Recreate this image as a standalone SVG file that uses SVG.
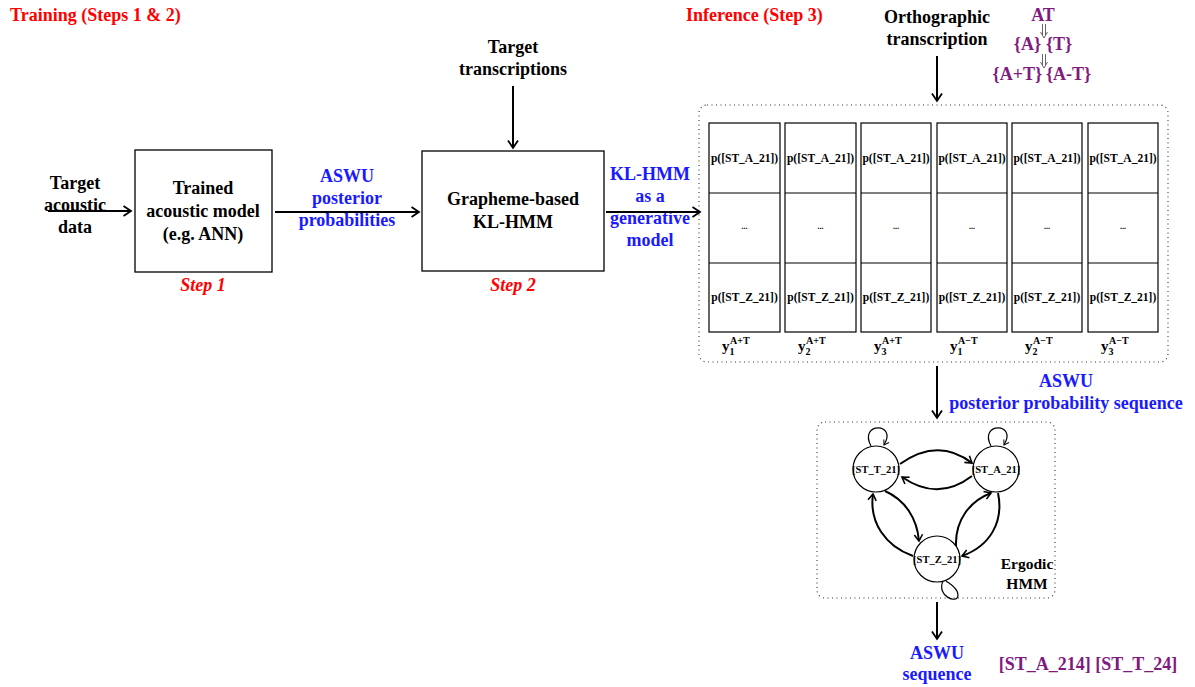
<svg xmlns="http://www.w3.org/2000/svg" width="1195" height="687" viewBox="0 0 1195 687">
<style>
text{font-family:"Liberation Serif","Times New Roman",serif;font-weight:bold;}
.t18{font-size:18px;fill:#000;}
.red{font-size:18px;fill:#ff0000;}
.step{font-size:18px;fill:#ff0000;font-style:italic;}
.blue{font-size:18px;fill:#1a1aff;}
.pur{font-size:18px;fill:#7f1a7f;}
.cell{font-size:11.5px;fill:#000;}
.dots{font-size:8px;fill:#000;}
.node{font-size:10.5px;fill:#000;}
.box{fill:#fff;stroke:#000;stroke-width:1.3;}
.col{fill:#fff;stroke:#000;stroke-width:1.2;}
.dotted{fill:none;stroke:#333;stroke-width:1.1;stroke-dasharray:1 3.5;}
.arr{fill:none;stroke:#000;stroke-width:2;marker-end:url(#ah);}
.arr2{fill:none;stroke:#000;stroke-width:2;marker-end:url(#ah2);}
.loop{fill:none;stroke:#000;stroke-width:1.2;}
.circ{fill:#fff;stroke:#000;stroke-width:1.2;}
</style>
<defs>
<marker id="ah" viewBox="0 0 12 12" refX="10.5" refY="6" markerWidth="12" markerHeight="12" markerUnits="userSpaceOnUse" orient="auto">
<path d="M3,1 L10.5,6 L3,11" fill="none" stroke="#000" stroke-width="1.8"/>
</marker>
<marker id="ah2" viewBox="0 0 12 12" refX="10" refY="6" markerWidth="11" markerHeight="11" markerUnits="userSpaceOnUse" orient="auto">
<path d="M3,1.5 L10,6 L3,10.5" fill="none" stroke="#000" stroke-width="1.7"/>
</marker>
<marker id="ah3" viewBox="0 0 12 12" refX="10" refY="6" markerWidth="8" markerHeight="8" markerUnits="userSpaceOnUse" orient="auto">
<path d="M3,1.5 L10,6 L3,10.5" fill="none" stroke="#000" stroke-width="1.5"/>
</marker>
</defs>

<g id="titles">
<text class="red" x="10" y="21">Training (Steps 1 &amp; 2)</text>
<text class="red" x="686" y="21">Inference (Step 3)</text>
</g>

<g id="input-acoustic">
<text class="t18" x="75" y="189" text-anchor="middle">Target</text>
<text class="t18" x="75" y="211" text-anchor="middle">acoustic</text>
<text class="t18" x="75" y="233" text-anchor="middle">data</text>
</g>

<g id="step1">
<rect class="box" x="135" y="150" width="137" height="122"/>
<text class="t18" x="203" y="194" text-anchor="middle">Trained</text>
<text class="t18" x="203" y="217" text-anchor="middle">acoustic model</text>
<text class="t18" x="203" y="240" text-anchor="middle">(e.g. ANN)</text>
<text class="step" x="203" y="291" text-anchor="middle">Step 1</text>
</g>

<g id="posteriors-label">
<text class="blue" x="347" y="182" text-anchor="middle">ASWU</text>
<text class="blue" x="347" y="204" text-anchor="middle">posterior</text>
<text class="blue" x="347" y="226" text-anchor="middle">probabilities</text>
</g>

<g id="target-transcriptions">
<text class="t18" x="513" y="53" text-anchor="middle">Target</text>
<text class="t18" x="513" y="75" text-anchor="middle">transcriptions</text>
</g>

<g id="step2">
<rect class="box" x="422" y="151" width="182" height="120"/>
<text class="t18" x="513" y="205" text-anchor="middle">Grapheme-based</text>
<text class="t18" x="513" y="228" text-anchor="middle">KL-HMM</text>
<text class="step" x="513" y="291" text-anchor="middle">Step 2</text>
</g>

<g id="generative-label">
<text class="blue" x="650" y="180" text-anchor="middle">KL-HMM</text>
<text class="blue" x="650" y="202" text-anchor="middle">as a</text>
<text class="blue" x="650" y="224" text-anchor="middle">generative</text>
<text class="blue" x="650" y="246" text-anchor="middle">model</text>
</g>

<g id="orthographic">
<text class="t18" x="937" y="23" text-anchor="middle">Orthographic</text>
<text class="t18" x="937" y="45" text-anchor="middle">transcription</text>
</g>

<g id="derivation">
<text class="pur" x="1043" y="21" text-anchor="middle">AT</text>
<text class="pur" x="1041" y="50" text-anchor="end">{A}</text>
<text class="pur" x="1046" y="50" text-anchor="start">{T}</text>
<text class="pur" x="1042" y="80" text-anchor="end">{A+T}</text>
<text class="pur" x="1046" y="80" text-anchor="start">{A-T}</text>
<path d="M1042.5,24 V35 M1045.5,24 V35 M1040.5,32 L1044,38 L1047.5,32" fill="none" stroke="#555" stroke-width="0.9"/>
<path d="M1042.5,54 V65 M1045.5,54 V65 M1040.5,62 L1044,68 L1047.5,62" fill="none" stroke="#555" stroke-width="0.9"/>
</g>

<g id="posterior-matrix">
<rect class="dotted" x="699" y="105" width="469" height="257" rx="8"/>
<g id="col1">
<rect class="col" x="709" y="123" width="71" height="209"/>
<line class="col" x1="709" y1="193" x2="780" y2="193"/><line class="col" x1="709" y1="263" x2="780" y2="263"/>
<text class="cell" x="744.5" y="162" text-anchor="middle">p([ST_A_21])</text>
<text class="dots" x="744.5" y="229" text-anchor="middle">...</text>
<text class="cell" x="744.5" y="301" text-anchor="middle">p([ST_Z_21])</text>
</g>
<g id="col2">
<rect class="col" x="785" y="123" width="71" height="209"/>
<line class="col" x1="785" y1="193" x2="856" y2="193"/><line class="col" x1="785" y1="263" x2="856" y2="263"/>
<text class="cell" x="820.5" y="162" text-anchor="middle">p([ST_A_21])</text>
<text class="dots" x="820.5" y="229" text-anchor="middle">...</text>
<text class="cell" x="820.5" y="301" text-anchor="middle">p([ST_Z_21])</text>
</g>
<g id="col3">
<rect class="col" x="861" y="123" width="70" height="209"/>
<line class="col" x1="861" y1="193" x2="931" y2="193"/><line class="col" x1="861" y1="263" x2="931" y2="263"/>
<text class="cell" x="896" y="162" text-anchor="middle">p([ST_A_21])</text>
<text class="dots" x="896" y="229" text-anchor="middle">...</text>
<text class="cell" x="896" y="301" text-anchor="middle">p([ST_Z_21])</text>
</g>
<g id="col4">
<rect class="col" x="937" y="123" width="70" height="209"/>
<line class="col" x1="937" y1="193" x2="1007" y2="193"/><line class="col" x1="937" y1="263" x2="1007" y2="263"/>
<text class="cell" x="972" y="162" text-anchor="middle">p([ST_A_21])</text>
<text class="dots" x="972" y="229" text-anchor="middle">...</text>
<text class="cell" x="972" y="301" text-anchor="middle">p([ST_Z_21])</text>
</g>
<g id="col5">
<rect class="col" x="1012" y="123" width="70" height="209"/>
<line class="col" x1="1012" y1="193" x2="1082" y2="193"/><line class="col" x1="1012" y1="263" x2="1082" y2="263"/>
<text class="cell" x="1047" y="162" text-anchor="middle">p([ST_A_21])</text>
<text class="dots" x="1047" y="229" text-anchor="middle">...</text>
<text class="cell" x="1047" y="301" text-anchor="middle">p([ST_Z_21])</text>
</g>
<g id="col6">
<rect class="col" x="1088" y="123" width="70" height="209"/>
<line class="col" x1="1088" y1="193" x2="1158" y2="193"/><line class="col" x1="1088" y1="263" x2="1158" y2="263"/>
<text class="cell" x="1123" y="162" text-anchor="middle">p([ST_A_21])</text>
<text class="dots" x="1123" y="229" text-anchor="middle">...</text>
<text class="cell" x="1123" y="301" text-anchor="middle">p([ST_Z_21])</text>
</g>
<g id="frame-labels">
<text x="722" y="351" font-size="15">y<tspan font-size="10" dy="4">1</tspan></text><text x="730" y="344" font-size="10">A+T</text>
<text x="798" y="351" font-size="15">y<tspan font-size="10" dy="4">2</tspan></text><text x="806" y="344" font-size="10">A+T</text>
<text x="874" y="351" font-size="15">y<tspan font-size="10" dy="4">3</tspan></text><text x="882" y="344" font-size="10">A+T</text>
<text x="950" y="351" font-size="15">y<tspan font-size="10" dy="4">1</tspan></text><text x="958" y="344" font-size="10">A−T</text>
<text x="1025" y="351" font-size="15">y<tspan font-size="10" dy="4">2</tspan></text><text x="1033" y="344" font-size="10">A−T</text>
<text x="1101" y="351" font-size="15">y<tspan font-size="10" dy="4">3</tspan></text><text x="1109" y="344" font-size="10">A−T</text>
</g>
</g>

<g id="sequence-label">
<text class="blue" x="1066" y="387" text-anchor="middle">ASWU</text>
<text class="blue" x="1066" y="409" text-anchor="middle">posterior probability sequence</text>
</g>

<g id="ergodic-hmm">
<rect class="dotted" x="817" y="422" width="238" height="176" rx="8"/>
<text x="1027" y="569" font-size="15.5" text-anchor="middle">Ergodic</text>
<text x="1027" y="589" font-size="15.5" text-anchor="middle">HMM</text>
</g>

<g id="state-T">
<circle class="circ" cx="876" cy="469" r="23"/>
<text class="node" x="876" y="473" text-anchor="middle">[ST_T_21]</text>
</g>
<g id="state-A">
<circle class="circ" cx="996" cy="469" r="23"/>
<text class="node" x="996" y="473" text-anchor="middle">[ST_A_21]</text>
</g>
<g id="state-Z">
<circle class="circ" cx="937" cy="559" r="23"/>
<text class="node" x="937" y="563" text-anchor="middle">[ST_Z_21]</text>
</g>

<g id="connectors">
<line class="arr" x1="48" y1="211" x2="131" y2="211"/>
<line class="arr" x1="275" y1="212" x2="419" y2="212"/>
<line class="arr" x1="513" y1="86" x2="513" y2="148"/>
<line class="arr" x1="606" y1="212" x2="700" y2="212"/>
<line class="arr" x1="937" y1="56" x2="937" y2="101"/>
<line class="arr" x1="937" y1="366" x2="937" y2="418"/>
<line class="arr" x1="937" y1="602" x2="937" y2="639"/>
<path class="arr2" d="M900,464 Q938,437 972,463"/>
<path class="arr2" d="M972,476 Q938,502 902,477"/>
<path class="arr2" d="M913,556 C885,546 869,522 873,494"/>
<path class="arr2" d="M885,491 C905,500 917,518 919,541"/>
<path class="arr2" d="M956,546 C955,520 970,501 991,493"/>
<path class="arr2" d="M998,493 C1004,522 990,546 962,556"/>
<path class="loop" marker-end="url(#ah3)" d="M871,446 C858,422 898,422 884,445"/>
<path class="loop" marker-end="url(#ah3)" d="M991,446 C978,422 1018,422 1004,445"/>
<path class="loop" d="M943,581 C936,596 958,605 958,595 C958,588 950,584 946,581"/>
</g>

<g id="output">
<text class="blue" x="937" y="659" text-anchor="middle">ASWU</text>
<text class="blue" x="937" y="680" text-anchor="middle">sequence</text>
<text class="pur" x="1088" y="670" text-anchor="middle">[ST_A_214] [ST_T_24]</text>
</g>
</svg>
